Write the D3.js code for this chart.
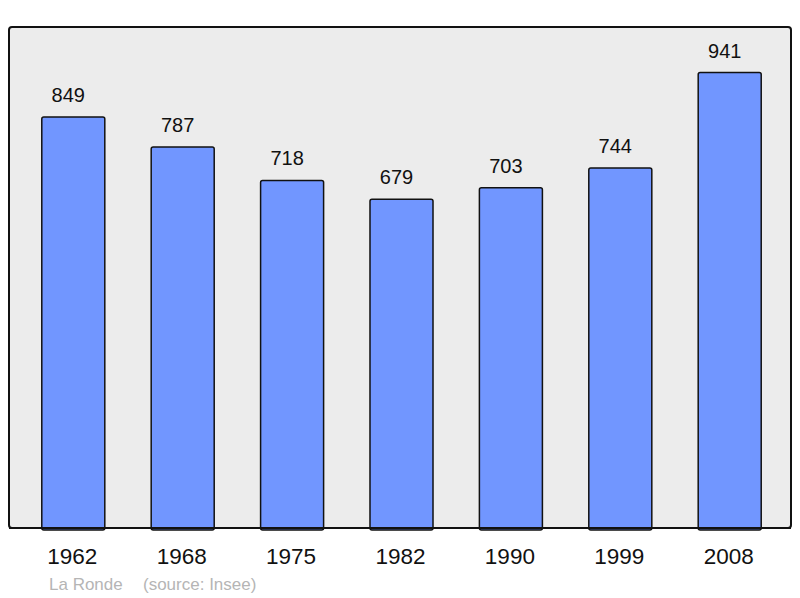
<!DOCTYPE html>
<html>
<head>
  <meta charset="utf-8">
  <title>La Ronde population</title>
  <script src="https://d3js.org/d3.v7.min.js"></script>
  <style>
    body { margin: 0; background: #fff; }
    text { font-family: "Liberation Sans", Arial, sans-serif; }
  </style>
</head>
<body>
  <div id="vis"></div>
  <script>
    const width = 800
    const height = 598

    const years = ["1962", "1968", "1975", "1982", "1990", "1999", "2008"]
    const population = [849, 787, 718, 679, 703, 744, 941]

    const panel = { x: 9, y: 27, w: 782, h: 501 }

    const svg = d3.select("#vis")
      .append("svg")
      .attr("width", width)
      .attr("height", height)

    svg.append("rect")
      .attr("x", panel.x)
      .attr("y", panel.y)
      .attr("width", panel.w)
      .attr("height", panel.h)
      .attr("rx", 3)
      .attr("fill", "#ececec")
      .attr("stroke", "#111")
      .attr("stroke-width", 2)

    const x = d3.scaleBand()
      .domain(years)
      .range([10.5, 792.5])
      .paddingInner(0.424)
      .paddingOuter(0.286)

    const y = d3.scaleLinear()
      .domain([0, d3.max(population) * 1.1])
      .range([panel.y + panel.h, panel.y])

    const data = years.map((yr, i) => ({ year: yr, value: population[i] }))

    svg.append("g")
      .selectAll("rect")
      .data(data)
      .join("rect")
      .attr("x", d => x(d.year))
      .attr("y", d => y(d.value))
      .attr("width", x.bandwidth())
      .attr("height", d => y(0) - y(d.value) + 2)
      .attr("rx", 2)
      .attr("fill", "#7196ff")
      .attr("stroke", "#111")
      .attr("stroke-width", 1.5)

    // redraw the bottom edge of the frame over the bars
    svg.append("line")
      .attr("x1", panel.x)
      .attr("x2", panel.x + panel.w)
      .attr("y1", panel.y + panel.h)
      .attr("y2", panel.y + panel.h)
      .attr("stroke", "#111")
      .attr("stroke-width", 2)

    // value labels sit a little left of the bar centre, as in the original
    svg.append("g")
      .selectAll("text")
      .data(data)
      .join("text")
      .attr("x", d => x(d.year) + x.bandwidth() / 2 - 5)
      .attr("y", d => y(d.value) - 15)
      .attr("text-anchor", "middle")
      .attr("font-size", 20)
      .attr("fill", "#111")
      .text(d => d.value)

    svg.append("g")
      .selectAll("text")
      .data(years)
      .join("text")
      .attr("x", d => x(d) + x.bandwidth() / 2 - 1)
      .attr("y", 564)
      .attr("text-anchor", "middle")
      .attr("font-size", 22.5)
      .attr("fill", "#111")
      .text(d => d)

    svg.append("text")
      .attr("x", 49)
      .attr("y", 590)
      .attr("font-size", 17)
      .attr("fill", "#b5b5b5")
      .text("La Ronde")

    svg.append("text")
      .attr("x", 143)
      .attr("y", 590)
      .attr("font-size", 17)
      .attr("fill", "#b5b5b5")
      .text("(source: Insee)")
  </script>
</body>
</html>
